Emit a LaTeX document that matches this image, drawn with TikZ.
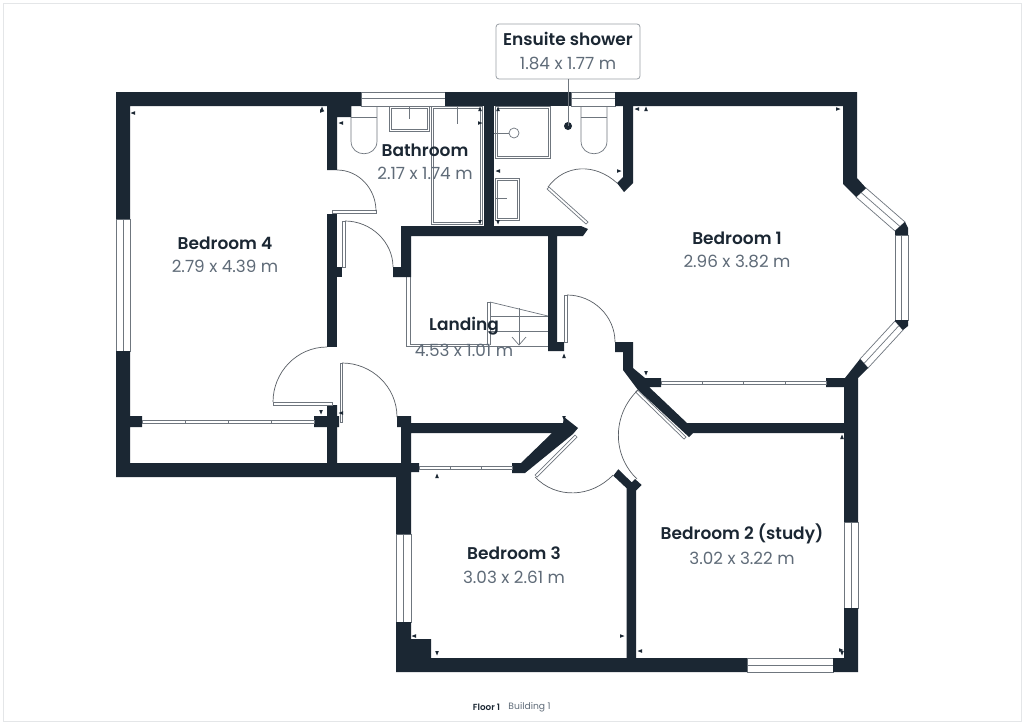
\documentclass[tikz,border=0pt]{standalone}
\usepackage{fontspec}
\setmainfont[BoldFont={Poppins SemiBold}]{Poppins}
\definecolor{wallc}{HTML}{1B2733}
\definecolor{fixc}{HTML}{6F767E}
\definecolor{dimc}{HTML}{5F6B78}
\definecolor{framec}{HTML}{E4E6E8}
\newcommand{\mkL}[2]{\fill[wallc] (#1-2.5,#2) -- (#1+2,#2-1.8) -- (#1+2,#2+1.8) -- cycle;}
\newcommand{\mkR}[2]{\fill[wallc] (#1+2.5,#2) -- (#1-2,#2-1.8) -- (#1-2,#2+1.8) -- cycle;}
\newcommand{\mkU}[2]{\fill[wallc] (#1,#2-2.5) -- (#1-1.8,#2+2) -- (#1+1.8,#2+2) -- cycle;}
\newcommand{\mkD}[2]{\fill[wallc] (#1,#2+2.5) -- (#1-1.8,#2-2) -- (#1+1.8,#2-2) -- cycle;}
\newcommand{\dblrect}[4]{\draw[fixture] (#1,#2) rectangle (#3,#4); \draw[fixture] (#1+2,#2+2) rectangle (#3-2,#4-2);}
\tikzset{
  wall/.style={fill=wallc,draw=none},
  fixture/.style={draw=fixc,line width=.7pt},
  swing/.style={draw=fixc!80!black,line width=.7pt},
  panelbox/.style={draw=fixc,fill=white,line width=.7pt},
  sliderbox/.style={draw=fixc,fill=white,line width=.6pt},
  winbox/.style={fill=white,draw=fixc,line width=.7pt},
  roomname/.style={font=\bfseries\fontsize{17}{20}\selectfont,text=wallc,inner sep=0pt},
  roomsize/.style={font=\fontsize{16.8}{20}\selectfont,text=dimc,inner sep=0pt},
  callout/.style={draw=fixc!70,line width=.8pt,rounded corners=3pt,fill=white}
}
\begin{document}
\begin{tikzpicture}[x=1pt,y=-1pt]
\useasboundingbox (0,0) rectangle (1024,724);
\fill[white] (0,0) rectangle (1024,724);
\draw[framec,line width=.7pt] (3,3) rectangle (1021,721);

% fixtures
\draw[fixture,fill=white] (351,106) -- (351,141) .. controls (351,158) and (377,158) .. (377,141) -- (377,106);
\draw[fixture] (351,117) -- (377,117);
\draw[fixture,fill=white] (581,106) -- (581,141) .. controls (581,158) and (607,158) .. (607,141) -- (607,106);
\draw[fixture] (581,117) -- (607,117);
\dblrect{389}{106}{429}{131}
\draw[fixture] (409,106) -- (409,119);
\dblrect{431}{106}{482}{224}
\draw[fixture] (457,106) -- (457,124);
\dblrect{495}{106}{550}{158}
\draw[fixture] (494,133) -- (509,133);
\draw[fixture] (514,133) circle (5);
\dblrect{495}{178}{519}{220}
\draw[fixture] (495,198) -- (507,198);

% landing outline and stairs
\draw[fixture] (406.5,277) -- (406.5,346.5) -- (548,346.5);
\draw[fixture] (410,277) -- (410,344) -- (487,344);
\draw[fixture] (487,345) -- (487,302) -- (490,302) -- (490,345);
\draw[fixture] (490,302) -- (548,316);
\draw[fixture] (490,316) -- (548,316);
\draw[fixture] (490,331) -- (548,331);
\draw[fixture] (519,308) -- (519,345);
\draw[fixture] (512,337) -- (519,345) -- (526,337);

% windows
\draw[winbox] (361,92) rectangle (445,106); \draw[fixture] (361,98.5) -- (445,98.5);
\draw[winbox] (571,92) rectangle (615,106); \draw[fixture] (571,98.5) -- (615,98.5);
\draw[winbox] (116,219) rectangle (130,351); \draw[fixture] (123,219) -- (123,351);
\draw[winbox] (396,534) rectangle (411,622); \draw[fixture] (403.5,534) -- (403.5,622);
\draw[winbox] (844,522) rectangle (858,608); \draw[fixture] (851,522) -- (851,608);
\draw[winbox] (747,658) rectangle (833,672); \draw[fixture] (747,665) -- (833,665);
\draw[winbox] (866,188) -- (905,222) -- (895,231) -- (856,197) -- cycle;
\draw[fixture] (861,192.5) -- (900,226.5);
\draw[winbox] (895,235) rectangle (908,320); \draw[fixture] (901.5,235) -- (901.5,320);
\draw[winbox] (895,321) -- (903,330) -- (868,368) -- (860,359) -- cycle;
\draw[fixture] (899,325.5) -- (864,363.5);

% walls
\fill[wall] (116,92) -- (361,92) -- (361,106) -- (351,106) -- (351,117) -- (337,117) -- (337,170) -- (327,170) -- (327,106) -- (130,106) -- (130,219) -- (116,219) -- cycle;
\fill[wall] (445,92) rectangle (571,106);
\fill[wall] (484,106) rectangle (494,226);
\fill[wall] (615,92) -- (857,92) -- (857,178) -- (866,188) -- (856,197) -- (843,184) -- (843,106) -- (633,106) -- (633,183) -- (624,192) -- (617,183) -- (623,177) -- (623,106) -- (615,106) -- cycle;
\fill[wall] (905,222) -- (908,228) -- (908,235) -- (895,235) -- (895,231) -- cycle;
\fill[wall] (895,320) -- (908,320) -- (908,326) -- (903,330) -- (895,321) -- cycle;
\fill[wall] (860,359) -- (868,368) -- (858,378) -- (858,522) -- (844,522) -- (844,387) -- (826,387) -- (826,378) -- (845,378) -- cycle;
\fill[wall] (327,214) rectangle (337,347);
\fill[wall] (337,267) rectangle (342,277);
% landing box walls
\fill[wall] (401,226) -- (581,226) -- (588,229) -- (583,236) -- (557,236) -- (557,342) -- (564,342) -- (564,351) -- (548,351) -- (548,236) -- (411,236) -- (411,277) -- (393,277) -- (393,267) -- (401,267) -- cycle;
% bedroom 4 lower
\fill[wall] (116,351) -- (130,351) -- (130,416) -- (142,416) -- (142,427) -- (130,427) -- (130,463) -- (327,463) -- (327,427) -- (314,427) -- (314,416) -- (327,416) -- (327,405) -- (337,405) -- (337,416) -- (339,416) -- (339,427) -- (337,427) -- (337,463) -- (401,463) -- (401,427) -- (397,427) -- (397,416) -- (411,416) -- (411,423) -- (563,423) -- (564,417) -- (578,428) -- (573,434) -- (525,473) -- (512,473) -- (512,463) -- (521,463) -- (552,433) -- (411,433) -- (411,463) -- (419,463) -- (419,472) -- (411,472) -- (411,534) -- (396,534) -- (396,477) -- (116,477) -- cycle;
% stub diagonal wall
\fill[wall] (615,342) -- (633,342) -- (633,368) -- (645,378) -- (661,378) -- (661,387) -- (649,387) -- (687,423) -- (845,423) -- (845,433) -- (693,433) -- (689,437) -- (638,390) -- (623,370) -- (623,352) -- (615,352) -- cycle;
% bedroom 1/2 divider
\fill[wall] (613.3,475.7) -- (618.3,469.3) -- (631.7,482.3) -- (635,479) -- (641.7,485) -- (636,490.7) -- (636,658) -- (626.7,658) -- (626.7,488.3) -- cycle;
% bottom block
\fill[wall] (396,622) -- (411,622) -- (411,639) -- (431,639) -- (431,658) -- (747,658) -- (747,672) -- (396,672) -- cycle;
\fill[wall] (833,658) -- (844,658) -- (844,608) -- (858,608) -- (858,672) -- (833,672) -- cycle;

% sliding doors
\draw[sliderbox] (142,420.2) rectangle (314,422.8);
\foreach \x in {185,228,271} \draw[fixc,line width=.6pt] (\x,420) -- (\x,423);
\draw[sliderbox] (419,466.2) rectangle (512,468.8);
\foreach \x in {450,481} \draw[fixc,line width=.6pt] (\x,466) -- (\x,469);
\draw[sliderbox] (661,381.2) rectangle (826,383.8);
\foreach \x in {702,743,785} \draw[fixc,line width=.6pt] (\x,381) -- (\x,384);

% door panels
\draw[panelbox] (332,210.5) rectangle (376,213.5);
\draw[panelbox] (342,221) rectangle (345,267);
\draw[panelbox] (273,402) rectangle (332,405);
\draw[panelbox] (340,363) rectangle (342.5,422);
\draw[panelbox] (564,295) rectangle (567,342);
\draw[panelbox] (637.5,390) -- (686,437) -- (684,439) -- (635.5,392) -- cycle;
\draw[panelbox] (575,435) -- (577,437) -- (537,477) -- (535,475) -- cycle;
\draw[panelbox] (549,187) -- (588,222) -- (586,224) -- (547,189) -- cycle;

% door swings
\draw[swing] (337,170) .. controls (359,170) and (376,189) .. (376,211);
\draw[swing] (345,221) .. controls (371,221) and (393,242) .. (393,267);
\draw[swing] (273,402) .. controls (273,372) and (297,347) .. (327,347);
\draw[swing] (342,363) .. controls (372,363) and (397,387) .. (397,417);
\draw[swing] (567,295) .. controls (593,295) and (615,316) .. (615,342);
\draw[swing] (638,390) .. controls (612,415) and (612,455) .. (637,479);
\draw[swing] (535,477) .. controls (556,499) and (591,498) .. (613,475);
\draw[swing] (548,187) .. controls (565,164) and (595,163) .. (617,183);

% dimension marks
\mkL{133}{113}\mkU{322}{109}\mkR{322}{111}\mkL{341}{123}
\mkU{480}{109}\mkR{480}{123}\mkD{480}{222}
\mkU{498}{109}\mkD{498}{222}\mkL{498}{171}\mkR{619}{171}
\mkL{637}{109}\mkU{646}{109}\mkR{838}{109}
\mkD{646}{373}\mkU{842}{437}\mkD{321}{412}\mkL{341}{413}
\mkU{437}{476}\mkU{564}{356}\mkD{564}{418}
\mkL{414}{636}\mkD{437}{653}\mkR{622}{636}\mkL{640}{651}\mkR{841}{650}\mkD{842}{653}

% labels
\node[roomname] (bed4n) at (225,243) {Bedroom 4};
\node[roomsize] (bed4s) at (225,266) {2.79 x 4.39 m};
\node[roomname] (bed1n) at (737,238) {Bedroom 1};
\node[roomsize] (bed1s) at (737,261) {2.96 x 3.82 m};
\node[roomname] (bathn) at (425,150) {Bathroom};
\node[roomsize] (baths) at (425,173) {2.17 x 1.74 m};
\node[roomname] (landn) at (464,326) {Landing};
\node[roomsize] (lands) at (464,350) {4.53 x 1.01 m};
\node[roomname] (bed2n) at (742,534) {Bedroom 2 (study)};
\node[roomsize] (bed2s) at (742,558) {3.02 x 3.22 m};
\node[roomname] (bed3n) at (514,553) {Bedroom 3};
\node[roomsize] (bed3s) at (514,577) {3.03 x 2.61 m};

% callout
\draw[callout] (496,24) rectangle (640,79);
\coordinate (calltop) at (568,79);
\fill[wallc] (568,126) circle (4);
\coordinate (calldot) at (568,126);
\draw[fixture] (calltop) -- (calldot);
\node[roomname] (ensn) at (568,39) {Ensuite shower};
\node[roomsize] (enss) at (568,63) {1.84 x 1.77 m};

% footer
\node[font=\bfseries\fontsize{8.8}{10}\selectfont,text=wallc,inner sep=0pt] (floorl) at (486.5,707) {Floor 1};
\node[font=\fontsize{9.2}{10}\selectfont,text=dimc,inner sep=0pt] (buildl) at (529.5,707) {Building 1};
\end{tikzpicture}
\end{document}
